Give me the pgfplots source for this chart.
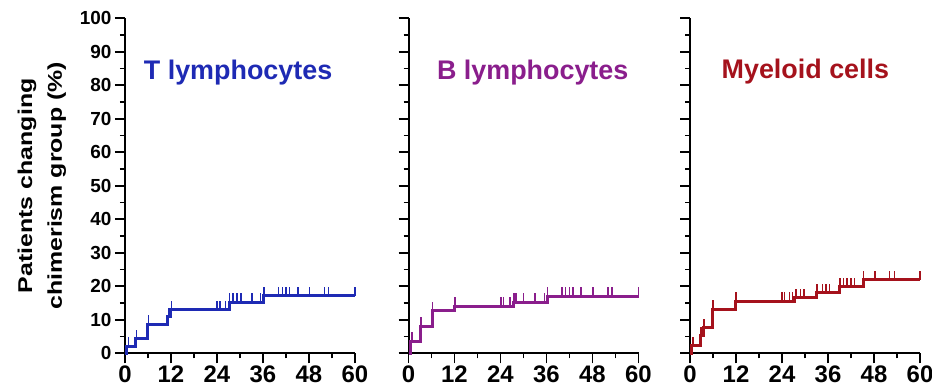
\documentclass[border=0pt]{standalone}
\usepackage{fontspec}
\setmainfont{Liberation Sans}
\usepackage{pgfplots}
\pgfplotsset{compat=1.18}
\definecolor{tcol}{RGB}{30,42,180}
\definecolor{bcol}{RGB}{138,30,140}
\definecolor{mcol}{RGB}{165,18,28}
\pgfdeclareplotmark{cens}{%
  \pgfpathmoveto{\pgfpointorigin}%
  \pgfpathlineto{\pgfpoint{0pt}{9bp}}%
  \pgfusepath{stroke}}
\pgfplotsset{km/.style={
  width=230bp, height=335bp, scale only axis,
  xmin=0, xmax=60, ymin=0, ymax=100,
  axis lines=left,
  axis line style={-, line width=2bp, black},
  xtick={0,12,...,60}, minor xtick={6,18,...,54},
  ytick={0,10,...,100}, minor ytick={5,15,...,95},
  tick align=outside,
  major tick length=10bp, minor tick length=5bp,
  tick style={line width=1.6bp, black},
  xticklabel style={font=\fontsize{24}{24}\selectfont\bfseries, yshift=1bp},
  yticklabel style={font=\fontsize{19}{19}\selectfont\bfseries},
  /pgf/number format/assume math mode=true,
  clip=false,
}}
\begin{document}
\begin{tikzpicture}
% ---------- T lymphocytes ----------
\begin{axis}[km, at={(0,0)},
  ylabel={\scalebox{1}[0.8]{\fontsize{25}{37.5}\selectfont\bfseries\begin{tabular}{@{}c@{}}Patients changing\\chimerism group (\%)\end{tabular}}},
  ylabel style={at={(axis description cs:-0.365,0.5)}, anchor=center},
]
\addplot[const plot, tcol, line width=3bp] table {
x y
0 0
0.45 2.17
2.8 4.35
5.9 8.7
11.1 10.9
11.8 13.0
27.2 15.3
36.1 17.2
60 17.2
};
\addplot[only marks, mark=cens, tcol, mark options={line width=1.6bp}] table {
x y
0.9 2.17
3.05 4.35
6.1 8.7
11.3 10.9
12.1 13.0
24.0 13.0
24.8 13.0
26.2 13.0
27.3 15.3
28.2 15.3
29.2 15.3
30.3 15.3
33.2 15.3
35.4 15.3
36.3 17.2
40.0 17.2
41.1 17.2
42.0 17.2
42.9 17.2
45.2 17.2
48.1 17.2
52.0 17.2
53.1 17.2
60 17.2
};
\node[font=\fontsize{27}{27}\selectfont\bfseries, text=tcol, anchor=base] at (axis cs:29.5,81.6) {T lymphocytes};
\end{axis}
% ---------- B lymphocytes ----------
\begin{axis}[km, at={(283.5bp,0)}, yticklabels={,,}]
\addplot[const plot, bcol, line width=3bp] table {
x y
0 0
0.45 3.6
3.05 8.1
6.2 12.7
12.0 14.1
27.3 15.2
36.2 17.1
60 17.1
};
\addplot[only marks, mark=cens, bcol, mark options={line width=1.6bp}] table {
x y
0.95 3.6
3.3 8.1
6.3 12.7
12.1 14.1
24.1 14.1
24.8 14.1
26.5 14.1
27.5 15.2
28.0 15.2
30.0 15.2
33.0 15.2
35.5 15.2
36.3 17.1
40.0 17.1
41.0 17.1
42.0 17.1
42.9 17.1
45.0 17.1
48.1 17.1
52.0 17.1
53.1 17.1
60 17.1
};
\node[font=\fontsize{27}{27}\selectfont\bfseries, text=bcol, anchor=base] at (axis cs:32.4,81.6) {B lymphocytes};
\end{axis}
% ---------- Myeloid cells ----------
\begin{axis}[km, at={(565bp,0)}, yticklabels={,,}]
\addplot[const plot, mcol, line width=3bp] table {
x y
0 0
0.45 2.2
2.8 5.3
3.5 7.6
5.85 13.1
11.95 15.6
27.3 16.6
33.1 18.1
39.0 19.9
45.2 21.9
60 21.9
};
\addplot[only marks, mark=cens, mcol, mark options={line width=1.6bp}] table {
x y
0.8 2.2
2.9 5.3
3.7 7.6
5.95 13.1
12.05 15.6
24.0 15.6
24.7 15.6
26.0 15.6
26.7 15.6
27.6 16.6
28.8 16.6
29.8 16.6
33.2 18.1
34.6 18.1
35.5 18.1
36.4 18.1
39.1 19.9
40.0 19.9
41.0 19.9
42.0 19.9
42.9 19.9
45.3 21.9
48.3 21.9
52.0 21.9
53.3 21.9
60 21.9
};
\node[font=\fontsize{27}{27}\selectfont\bfseries, text=mcol, anchor=base] at (axis cs:30.1,82.1) {Myeloid cells};
\end{axis}
\pgfresetboundingbox
\path[use as bounding box] (-125bp,-33.7bp) rectangle (807bp,353.3bp);
\end{tikzpicture}
\end{document}
